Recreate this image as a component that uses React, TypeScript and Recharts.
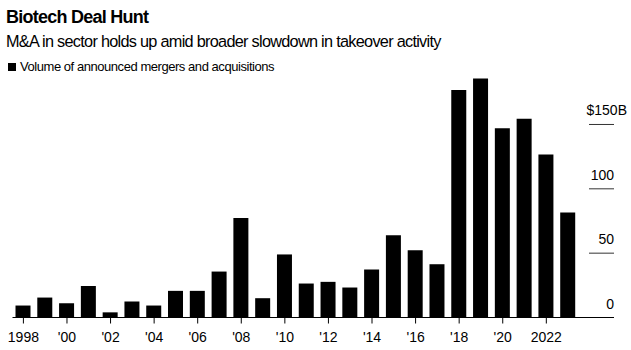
import React from "react";
import { BarChart, Bar, XAxis, YAxis } from "recharts";

const years = [
  1998, 1999, 2000, 2001, 2002, 2003, 2004, 2005, 2006, 2007, 2008, 2009, 2010,
  2011, 2012, 2013, 2014, 2015, 2016, 2017, 2018, 2019, 2020, 2021, 2022, 2023,
];
// $B
const volumes = [
  9.3, 15.5, 11, 24.5, 4, 12.4, 9.3, 20.7, 20.7, 35.7, 77.4, 15, 49, 26.4, 27.7,
  23.3, 37.3, 64, 52.3, 41.4, 176.7, 185.8, 147, 154.4, 126.7, 81.6,
];
const yTicks = [0, 50, 100, 150];

const data = years.map((y, i) => ({ year: y, volume: volumes[i] }));

const FONT = "'Liberation Sans', Arial, sans-serif";

const fmtYear = (v: number) =>
  v === 1998 || v === 2022 ? String(v) : "'" + String(v).slice(2);

function YTick(props: any) {
  const { x, y, payload } = props;
  const isTop = payload.value === 150;
  return (
    <g>
      {payload.value !== 0 && (
        <line x1={x - 25} x2={x} y1={y} y2={y} stroke="#333" strokeWidth={1} />
      )}
      <text
        x={isTop ? x + 13 : x}
        y={y - 9}
        textAnchor="end"
        fontSize={14}
        fontFamily={FONT}
        fill="#000"
      >
        {isTop ? "$150B" : payload.value}
      </text>
    </g>
  );
}

export default function App() {
  return (
    <div
      style={{
        position: "absolute",
        left: 0,
        top: 0,
        width: 631,
        height: 350,
        background: "#fff",
        fontFamily: FONT,
        color: "#000",
      }}
    >
      <div
        style={{
          position: "absolute",
          left: 6,
          top: 7.5,
          fontSize: 18,
          lineHeight: 1,
          fontWeight: 700,
          letterSpacing: -0.75,
        }}
      >
        Biotech Deal Hunt
      </div>
      <div
        style={{
          position: "absolute",
          left: 6,
          top: 33,
          fontSize: 16.3,
          lineHeight: 1,
          letterSpacing: -0.72,
        }}
      >
        M&amp;A in sector holds up amid broader slowdown in takeover activity
      </div>
      <div style={{ position: "absolute", left: 7.5, top: 63.3, width: 8, height: 8, background: "#000" }} />
      <div
        style={{
          position: "absolute",
          left: 20,
          top: 59.7,
          fontSize: 13,
          lineHeight: 1,
          letterSpacing: -0.45,
        }}
      >
        Volume of announced mergers and acquisitions
      </div>
      <div style={{ position: "absolute", left: 0, top: 0 }}>
        <BarChart
          width={631}
          height={350}
          data={data}
          margin={{ top: 73, right: 0, bottom: 0, left: 12.5 }}
        >
          <XAxis
            dataKey="year"
            interval={1}
            tickFormatter={fmtYear}
            padding={{ left: 0, right: 35 }}
            height={32.5}
            stroke="#000"
            tickSize={6}
            tickMargin={9}
            tick={{ fontSize: 14, fontFamily: FONT, fill: "#000" }}
          />
          <YAxis
            orientation="right"
            width={17}
            domain={[0, 190]}
            ticks={yTicks}
            axisLine={false}
            tickLine={false}
            tickSize={0}
            tickMargin={0}
            tick={<YTick />}
          />
          <Bar dataKey="volume" fill="#000" barSize={15} isAnimationActive={false} />
        </BarChart>
      </div>
    </div>
  );
}
